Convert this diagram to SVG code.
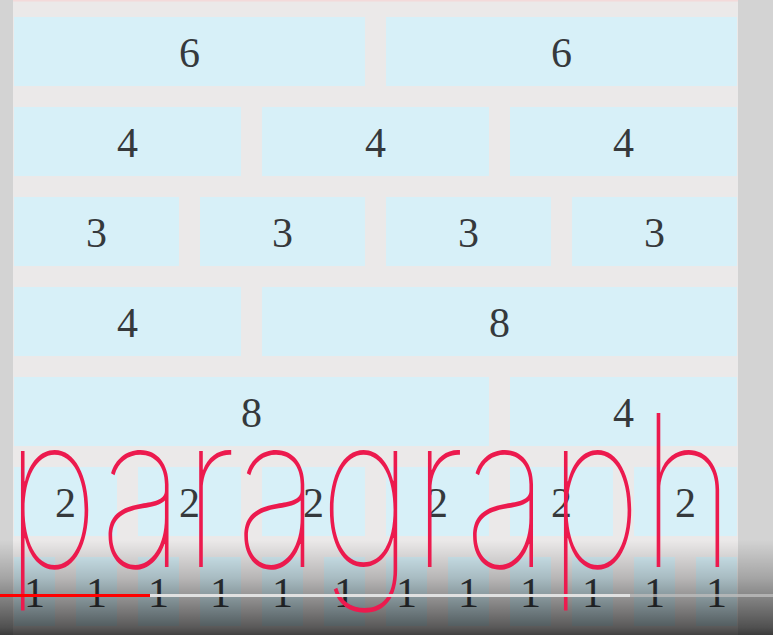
<svg xmlns="http://www.w3.org/2000/svg" width="773" height="635" viewBox="0 0 773 635">
<defs>
<style>
.b{fill:#d7f0f8}
.n{font-family:"Liberation Serif","Times New Roman",serif;font-size:42px;fill:#35393c;text-anchor:middle}
.para{font-family:Inter,Roboto,Lato,sans-serif;font-weight:100;fill:#ec1a4e}
</style>
<linearGradient id="shade" x1="0" y1="0" x2="0" y2="1">
<stop offset="0" stop-color="#000" stop-opacity="0"/>
<stop offset="0.4" stop-color="#000" stop-opacity="0.22"/>
<stop offset="0.92" stop-color="#000" stop-opacity="0.62"/>
<stop offset="1" stop-color="#000" stop-opacity="0.72"/>
</linearGradient>
</defs>
<rect x="0" y="0" width="773" height="635" fill="#d3d3d3"/>
<rect x="13" y="0" width="725" height="635" fill="#ebe9e9"/>
<rect x="13" y="0" width="725" height="1.5" fill="#f3dada"/>
<g id="row1">
<g id="r1c1"><rect class="b" x="14" y="17" width="351" height="69"/><text class="n" x="189.5" y="67">6</text></g>
<g id="r1c2"><rect class="b" x="386" y="17" width="351" height="69"/><text class="n" x="561.5" y="67">6</text></g>
</g>
<g id="row2">
<g id="r2c1"><rect class="b" x="14" y="107" width="227" height="69"/><text class="n" x="127.5" y="157">4</text></g>
<g id="r2c2"><rect class="b" x="262" y="107" width="227" height="69"/><text class="n" x="375.5" y="157">4</text></g>
<g id="r2c3"><rect class="b" x="510" y="107" width="227" height="69"/><text class="n" x="623.5" y="157">4</text></g>
</g>
<g id="row3">
<g id="r3c1"><rect class="b" x="14" y="197" width="165" height="69"/><text class="n" x="96.5" y="247">3</text></g>
<g id="r3c2"><rect class="b" x="200" y="197" width="165" height="69"/><text class="n" x="282.5" y="247">3</text></g>
<g id="r3c3"><rect class="b" x="386" y="197" width="165" height="69"/><text class="n" x="468.5" y="247">3</text></g>
<g id="r3c4"><rect class="b" x="572" y="197" width="165" height="69"/><text class="n" x="654.5" y="247">3</text></g>
</g>
<g id="row4">
<g id="r4c1"><rect class="b" x="14" y="287" width="227" height="69"/><text class="n" x="127.5" y="337">4</text></g>
<g id="r4c2"><rect class="b" x="262" y="287" width="475" height="69"/><text class="n" x="499.5" y="337">8</text></g>
</g>
<g id="row5">
<g id="r5c1"><rect class="b" x="14" y="377" width="475" height="69"/><text class="n" x="251.5" y="427">8</text></g>
<g id="r5c2"><rect class="b" x="510" y="377" width="227" height="69"/><text class="n" x="623.5" y="427">4</text></g>
</g>
<g id="row6">
<g id="r6c1"><rect class="b" x="14" y="467" width="103" height="69"/><text class="n" x="65.5" y="517">2</text></g>
<g id="r6c2"><rect class="b" x="138" y="467" width="103" height="69"/><text class="n" x="189.5" y="517">2</text></g>
<g id="r6c3"><rect class="b" x="262" y="467" width="103" height="69"/><text class="n" x="313.5" y="517">2</text></g>
<g id="r6c4"><rect class="b" x="386" y="467" width="103" height="69"/><text class="n" x="437.5" y="517">2</text></g>
<g id="r6c5"><rect class="b" x="510" y="467" width="103" height="69"/><text class="n" x="561.5" y="517">2</text></g>
<g id="r6c6"><rect class="b" x="634" y="467" width="103" height="69"/><text class="n" x="685.5" y="517">2</text></g>
</g>
<g id="row7">
<g id="r7c1"><rect class="b" x="14" y="557" width="41" height="69"/><text class="n" x="34.5" y="607">1</text></g>
<g id="r7c2"><rect class="b" x="76" y="557" width="41" height="69"/><text class="n" x="96.5" y="607">1</text></g>
<g id="r7c3"><rect class="b" x="138" y="557" width="41" height="69"/><text class="n" x="158.5" y="607">1</text></g>
<g id="r7c4"><rect class="b" x="200" y="557" width="41" height="69"/><text class="n" x="220.5" y="607">1</text></g>
<g id="r7c5"><rect class="b" x="262" y="557" width="41" height="69"/><text class="n" x="282.5" y="607">1</text></g>
<g id="r7c6"><rect class="b" x="324" y="557" width="41" height="69"/><text class="n" x="344.5" y="607">1</text></g>
<g id="r7c7"><rect class="b" x="386" y="557" width="41" height="69"/><text class="n" x="406.5" y="607">1</text></g>
<g id="r7c8"><rect class="b" x="448" y="557" width="41" height="69"/><text class="n" x="468.5" y="607">1</text></g>
<g id="r7c9"><rect class="b" x="510" y="557" width="41" height="69"/><text class="n" x="530.5" y="607">1</text></g>
<g id="r7c10"><rect class="b" x="572" y="557" width="41" height="69"/><text class="n" x="592.5" y="607">1</text></g>
<g id="r7c11"><rect class="b" x="634" y="557" width="41" height="69"/><text class="n" x="654.5" y="607">1</text></g>
<g id="r7c12"><rect class="b" x="696" y="557" width="41" height="69"/><text class="n" x="716.5" y="607">1</text></g>
</g>
<rect x="0" y="540" width="773" height="95" fill="url(#shade)"/>
<g id="word"><text class="para" x="5.5" y="567" font-size="212" textLength="729" lengthAdjust="spacingAndGlyphs">paragraph</text></g>
<g id="player">
<rect x="150" y="594" width="623" height="3" fill="#bdbdbd" opacity="0.8"/>
<rect x="150" y="594" width="480" height="3" fill="#e6e6e6" opacity="0.9"/>
<rect x="0" y="594" width="150" height="3" fill="#ff0000"/>
</g>
</svg>
